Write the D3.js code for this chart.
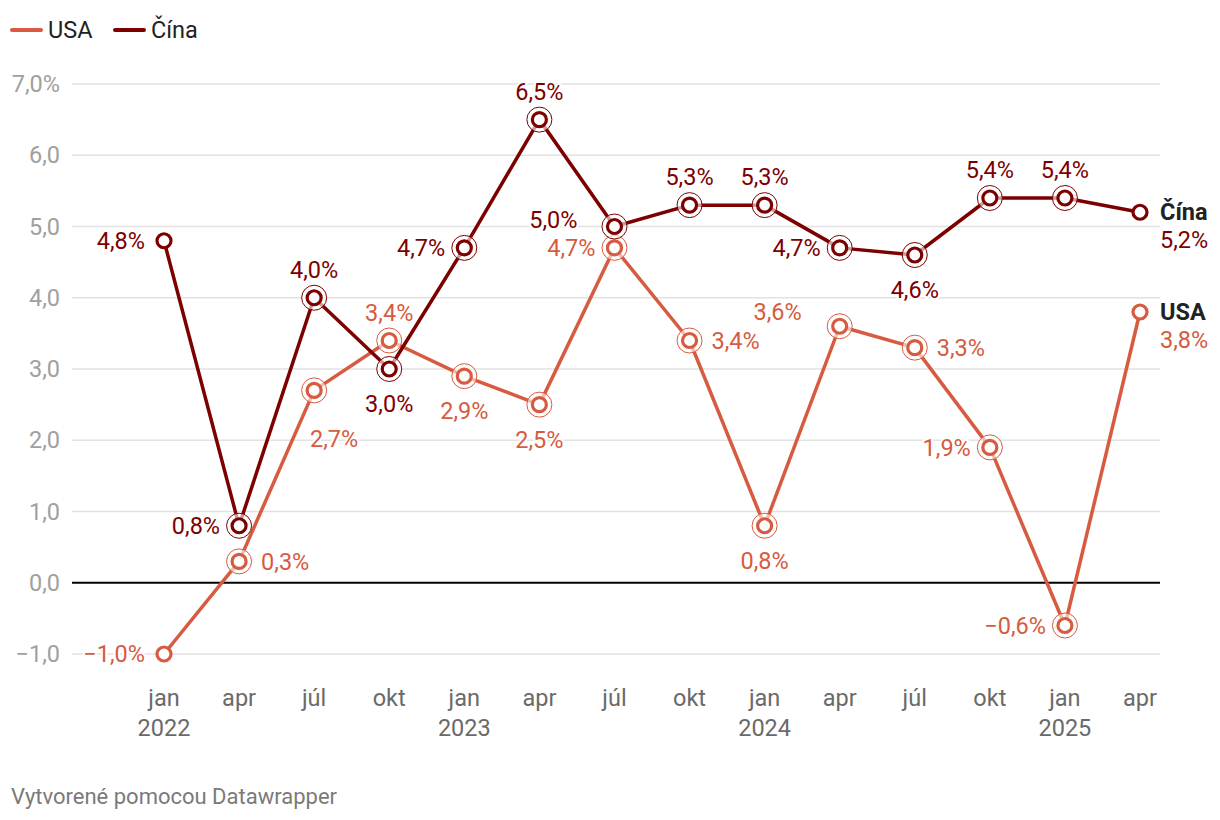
<!DOCTYPE html>
<html><head><meta charset="utf-8">
<script src="https://cdn.jsdelivr.net/npm/d3@7/dist/d3.min.js"></script>
<style>
body{margin:0;background:#fff;font-family:Roboto,"Noto Sans",sans-serif;}
svg{display:block}
</style></head>
<body><svg id="c" width="1220" height="820"></svg>
<script>
const months = ["jan","apr","júl","okt","jan","apr","júl","okt","jan","apr","júl","okt","jan","apr"];
const years = ["2022","","","","2023","","","","2024","","","","2025",""];
const usa = [-1.0,0.3,2.7,3.4,2.9,2.5,4.7,3.4,0.8,3.6,3.3,1.9,-0.6,3.8];
const china = [4.8,0.8,4.0,3.0,4.7,6.5,5.0,5.3,5.3,4.7,4.6,5.4,5.4,5.2];
// label placement per point: l=left, r=right, t=top, b=bottom, br=below-right, tl=above-left, lu=left slightly up
const usaPos = ["l","r","br","t","b","b","l","r","b","tl","r","l","l","end"];
const chinaPos = ["l","l","t","b","l","t","lu","t","t","l","b","t","t","end"];
const yTicks = [-1,0,1,2,3,4,5,6,7];
const seriesNames = ["USA","Čína"];
const colors = ["#d65b40","#7d0000"];

const svg = d3.select("#c");
const x = d3.scaleLinear().domain([0,13]).range([164,1140]);
const y = d3.scaleLinear().domain([-1,7]).range([654,84]);
const fmt = v => (v<0?"\u2212":"") + Math.abs(v).toFixed(1).replace(".",",");
const FS = 23.5;

// grid
const g = svg.append("g");
yTicks.forEach(t=>{
  g.append("line").attr("x1",72).attr("x2",1160).attr("y1",y(t)).attr("y2",y(t))
   .attr("stroke", t===0?"#000":"#e2e2e2").attr("stroke-width", t===0?2:1.5);
  g.append("text").attr("x",60).attr("y",y(t)).attr("dy","0.35em").attr("text-anchor","end")
   .attr("fill","#a0a0a0").attr("font-size",FS).text(fmt(t)+(t===7?"%":""));
});
// x axis labels
months.forEach((m,i)=>{
  svg.append("text").attr("x",x(i)).attr("y",698).attr("dy","0.35em").attr("text-anchor","middle")
    .attr("fill","#6a6a6a").attr("font-size",FS).text(m);
  if(years[i]) svg.append("text").attr("x",x(i)).attr("y",728).attr("dy","0.35em").attr("text-anchor","middle")
    .attr("fill","#6a6a6a").attr("font-size",FS).text(years[i]);
});

const line = d3.line().x((d,i)=>x(i)).y(d=>y(d));
function drawSeries(data, pos, color, name){
  svg.append("path").datum(data).attr("d",line).attr("fill","none")
    .attr("stroke",color).attr("stroke-width",3.5).attr("stroke-linejoin","round");
  data.forEach((v,i)=>{
    const cx=x(i), cy=y(v);
    if(i>0 && i<data.length-1){
      svg.append("circle").attr("cx",cx).attr("cy",cy).attr("r",12.5)
        .attr("fill","#fff").attr("fill-opacity",0.6).attr("stroke",color).attr("stroke-width",1);
    }
    svg.append("circle").attr("cx",cx).attr("cy",cy).attr("r",7)
      .attr("fill","#fff").attr("stroke",color).attr("stroke-width",3.2);
  });
}
function drawLabels(data,pos,color,name){
  data.forEach((v,i)=>{
    const cx=x(i), cy=y(v), p=pos[i];
    let tx=cx, ty=cy, anchor="middle";
    if(p==="l"){tx=cx-19; anchor="end";}
    else if(p==="r"){tx=cx+22; anchor="start";}
    else if(p==="t"){ty=cy-28;}
    else if(p==="b"){ty=cy+35;}
    else if(p==="br"){tx=cx+20; ty=cy+48;}
    else if(p==="tl"){tx=cx-38; ty=cy-14; anchor="end";}
    else if(p==="lu"){tx=cx-37; ty=cy-7; anchor="end";}
    if(p==="end"){
      svg.append("text").attr("x",cx+20).attr("y",cy).attr("dy","0.35em")
        .attr("font-size",FS).attr("font-weight","bold").attr("fill","#222").text(name);
      svg.append("text").attr("x",cx+20).attr("y",cy+28).attr("dy","0.35em")
        .attr("font-size",FS).attr("fill",color).text(fmt(v)+"%");
      return;
    }
    svg.append("text").attr("x",tx).attr("y",ty).attr("dy","0.35em").attr("text-anchor",anchor)
      .attr("font-size",FS).attr("fill",color)
      .attr("stroke","#fff").attr("stroke-width",4).attr("paint-order","stroke")
      .text(fmt(v)+"%");
  });
}
drawSeries(usa,usaPos,colors[0],seriesNames[0]);
drawSeries(china,chinaPos,colors[1],seriesNames[1]);
drawLabels(usa,usaPos,colors[0],seriesNames[0]);
drawLabels(china,chinaPos,colors[1],seriesNames[1]);

// legend
const legX=[12,115];
seriesNames.forEach((n,i)=>{
  svg.append("line").attr("x1",legX[i]).attr("x2",legX[i]+29).attr("y1",30).attr("y2",30)
    .attr("stroke",colors[i]).attr("stroke-width",4).attr("stroke-linecap","round");
  svg.append("text").attr("x",legX[i]+36).attr("y",30).attr("dy","0.35em")
    .attr("font-size",FS).attr("fill","#222").text(n);
});
// footer
svg.append("text").attr("x",11).attr("y",796).attr("dy","0.35em").attr("font-size",22).attr("fill","#7a7a7a")
  .text("Vytvorené pomocou Datawrapper");
</script></body></html>
